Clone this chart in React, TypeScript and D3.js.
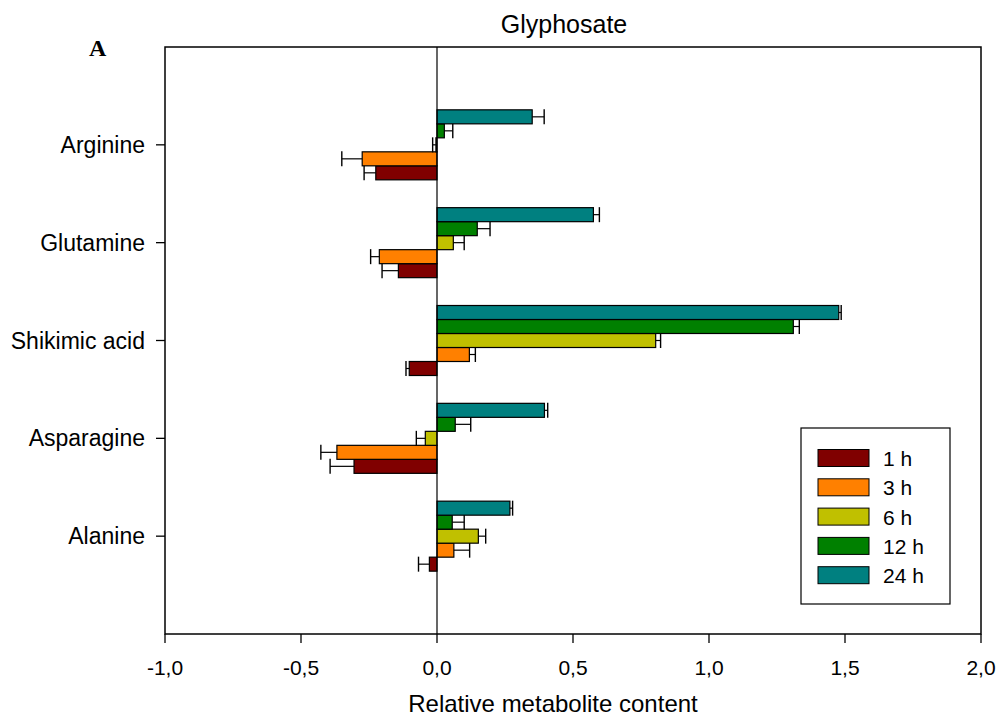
import React from 'react';
import * as d3 from 'd3';

const WIDTH = 998;
const HEIGHT = 718;
const MARGIN = { top: 47, right: 17, bottom: 84, left: 165 };

const metabolites = ['Arginine', 'Glutamine', 'Shikimic acid', 'Asparagine', 'Alanine'];
const timepoints = ['1 h', '3 h', '6 h', '12 h', '24 h'];
const colors = ['#800000', '#ff8000', '#c0c000', '#008000', '#008080'];

// mean values per timepoint, metabolites in the order above
const values1h = [-0.225, -0.142, -0.102, -0.305, -0.028];
const values3h = [-0.275, -0.212, 0.119, -0.368, 0.062];
const values6h = [-0.004, 0.06, 0.804, -0.043, 0.152];
const values12h = [0.027, 0.148, 1.31, 0.067, 0.056];
const values24h = [0.35, 0.575, 1.477, 0.395, 0.268];

// error bar lengths
const errors1h = [0.043, 0.06, 0.012, 0.088, 0.04];
const errors3h = [0.075, 0.032, 0.022, 0.059, 0.058];
const errors6h = [0.012, 0.04, 0.018, 0.033, 0.027];
const errors12h = [0.031, 0.047, 0.022, 0.057, 0.044];
const errors24h = [0.044, 0.022, 0.009, 0.012, 0.01];

const xTicks = [-1, -0.5, 0, 0.5, 1, 1.5, 2];

const allValues = [values1h, values3h, values6h, values12h, values24h];
const allErrors = [errors1h, errors3h, errors6h, errors12h, errors24h];

const FONT = '"Liberation Sans", Arial, sans-serif';

const App = () => {
    const left = MARGIN.left;
    const right = WIDTH - MARGIN.right;
    const top = MARGIN.top;
    const bottom = HEIGHT - MARGIN.bottom;

    const xScale = d3.scaleLinear().domain([-1, 2]).range([left, right]);
    const yScale = d3.scalePoint().domain(metabolites).range([top, bottom]).padding(1);
    const inner = d3.scaleBand()
        .domain(timepoints.slice().reverse())
        .range([-35, 35]);
    const bh = inner.bandwidth();
    const fmt = (v) => d3.format('.1f')(v).replace('.', ',').replace('−', '-');

    const legendX = 801;
    const legendY = 428;

    return (
        <svg width={WIDTH} height={HEIGHT} style={{ position: 'absolute', left: 0, top: 0, background: '#fff' }}>
            <text x={564} y={33} textAnchor="middle" fontFamily={FONT} fontSize={25}>Glyphosate</text>
            <text x={89} y={56} fontFamily='"Liberation Serif", "Times New Roman", serif' fontWeight="bold" fontSize={24}>A</text>

            {metabolites.map((m, i) =>
                timepoints.map((t, j) => {
                    const v = allValues[j][i];
                    const e = allErrors[j][i];
                    const yc = yScale(m) + inner(t) + bh / 2;
                    const x0 = xScale(Math.min(0, v));
                    const x1 = xScale(Math.max(0, v));
                    const xe = xScale(v + (v < 0 ? -e : e));
                    const xv = xScale(v);
                    return (
                        <g key={m + t}>
                            <rect x={x0} y={yc - bh / 2} width={x1 - x0} height={bh}
                                fill={colors[j]} stroke="#000" strokeWidth={1.2} />
                            <line x1={xv} x2={xe} y1={yc} y2={yc} stroke="#000" strokeWidth={1.2} />
                            <line x1={xe} x2={xe} y1={yc - 7.5} y2={yc + 7.5} stroke="#000" strokeWidth={1.4} />
                        </g>
                    );
                })
            )}

            <line x1={xScale(0)} x2={xScale(0)} y1={top} y2={bottom} stroke="#000" strokeWidth={1.2} />
            <rect x={left} y={top} width={right - left} height={bottom - top}
                fill="none" stroke="#000" strokeWidth={1.5} />

            {xTicks.map(t => (
                <g key={t}>
                    <line x1={xScale(t)} x2={xScale(t)} y1={bottom} y2={bottom + 9} stroke="#000" strokeWidth={1.3} />
                    <text x={xScale(t)} y={bottom + 41} textAnchor="middle" fontFamily={FONT} fontSize={21}>{fmt(t)}</text>
                </g>
            ))}
            <text x={553} y={bottom + 78} textAnchor="middle" fontFamily={FONT} fontSize={24}>Relative metabolite content</text>

            {metabolites.map(m => (
                <g key={m}>
                    <line x1={left - 9} x2={left} y1={yScale(m)} y2={yScale(m)} stroke="#000" strokeWidth={1.3} />
                    <text x={left - 20} y={yScale(m) + 8} textAnchor="end" fontFamily={FONT} fontSize={23}>{m}</text>
                </g>
            ))}

            <rect x={legendX} y={legendY} width={149} height={176} fill="#fff" stroke="#000" strokeWidth={1.2} />
            {timepoints.map((t, j) => {
                const ry = legendY + 30 + j * 29.3;
                return (
                    <g key={t}>
                        <rect x={legendX + 17} y={ry - 8.5} width={51} height={17} fill={colors[j]} stroke="#000" strokeWidth={1} />
                        <text x={legendX + 82} y={ry + 8} fontFamily={FONT} fontSize={21}>{t}</text>
                    </g>
                );
            })}
        </svg>
    );
};

export default App;
